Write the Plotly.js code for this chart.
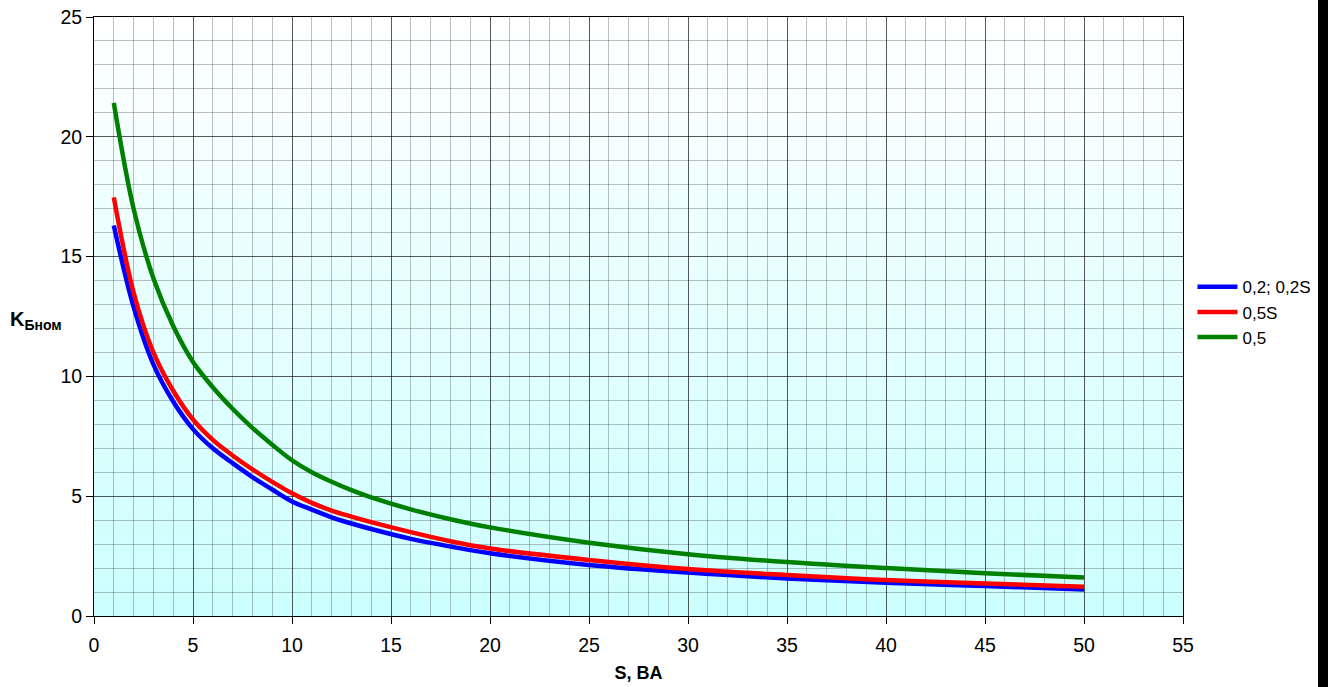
<!DOCTYPE html>
<html>
<head>
<meta charset="utf-8">
<script src="https://cdn.plot.ly/plotly-3.0.1.min.js"></script>
<style>
  html, body { margin: 0; padding: 0; background: #000; }
  #chart { width: 1318px; height: 687px; background: #fff; }
</style>
</head>
<body>
<div id="chart"></div>
<script>
// S, VA
const S = [1, 2, 3, 4, 5, 6, 7, 8, 9, 10, 11, 12, 13, 14, 16, 18, 20, 25, 30, 35, 40, 45, 50];
// class 0,2; 0,2S
const kBlue  = [16.3, 12.9, 10.5, 8.95, 7.8, 7.0, 6.38, 5.8, 5.28, 4.78, 4.44, 4.12, 3.86, 3.63, 3.22, 2.9, 2.62, 2.13, 1.81, 1.57, 1.39, 1.25, 1.11];
// class 0,5S
const kRed   = [17.47, 13.5, 11.0, 9.4, 8.2, 7.35, 6.7, 6.12, 5.6, 5.12, 4.72, 4.4, 4.15, 3.92, 3.5, 3.12, 2.82, 2.34, 1.96, 1.71, 1.5, 1.36, 1.22];
// class 0,5
const kGreen = [21.42, 17.0, 14.1, 12.1, 10.6, 9.55, 8.65, 7.85, 7.15, 6.5, 6.0, 5.6, 5.25, 4.95, 4.45, 4.04, 3.7, 3.06, 2.58, 2.25, 2.0, 1.78, 1.61];

const seriesNames = ['0,2; 0,2S', '0,5S', '0,5'];
const xTitle = 'S, BA';
const yTitle = '<b>K<sub>Бном</sub></b>';

const FONT = 'Arial, "Liberation Sans", sans-serif';

function line(y, name, color) {
  return {
    x: S, y: y, name: name, type: 'scatter', mode: 'lines',
    line: { color: color, width: 4.5, shape: 'spline', smoothing: 1 },
    hoverinfo: 'x+y+name'
  };
}

const data = [
  line(kBlue, seriesNames[0], '#0000ff'),
  line(kRed, seriesNames[1], '#ff0000'),
  line(kGreen, seriesNames[2], '#008000')
];

// gradient background: white (top) to light cyan (bottom)
const shapes = [];
const N = 60;
for (let i = 0; i < N; i++) {
  const t = (i + 0.5) / N; // 0 at top, 1 at bottom
  const r = Math.round(255 - 51 * t);
  shapes.push({
    type: 'rect', xref: 'paper', yref: 'paper',
    x0: 0, x1: 1, y0: 1 - (i + 1) / N, y1: 1 - i / N + 0.001,
    fillcolor: `rgb(${r},255,255)`, line: { width: 0 }, layer: 'below'
  });
}

const axisCommon = {
  showline: true, linecolor: '#000', linewidth: 1, mirror: true,
  ticks: 'outside', ticklen: 7, tickcolor: '#000', tickwidth: 1,
  showgrid: true, gridcolor: 'rgba(0,0,0,0.65)', gridwidth: 1,
  zeroline: false,
  tickfont: { family: FONT, size: 19.5, color: '#000' },
  minor: { dtick: 1, showgrid: true, gridcolor: 'rgba(0,0,0,0.25)', gridwidth: 1, ticks: '' }
};

const layout = {
  width: 1318, height: 687,
  margin: { l: 94, r: 135, t: 17, b: 71, autoexpand: false },
  paper_bgcolor: '#ffffff',
  plot_bgcolor: 'rgba(0,0,0,0)',
  font: { family: FONT, color: '#000' },
  showlegend: true,
  legend: {
    x: 1.0087, y: 0.507, xanchor: 'left', yanchor: 'middle',
    font: { family: FONT, size: 17, color: '#000' },
    bgcolor: 'rgba(0,0,0,0)', itemwidth: 40, tracegroupgap: 0
  },
  xaxis: Object.assign({}, axisCommon, {
    range: [0, 55], dtick: 5, tick0: 0, ticklabelstandoff: 5,
    title: { text: '<b>' + xTitle + '</b>', font: { family: FONT, size: 18, color: '#000' }, standoff: 10 }
  }),
  yaxis: Object.assign({}, axisCommon, {
    range: [0, 25], dtick: 5, tick0: 0
  }),
  shapes: shapes,
  annotations: [{
    text: yTitle, xref: 'paper', yref: 'paper', x: -0.053, y: 0.494,
    xanchor: 'center', yanchor: 'middle', showarrow: false,
    font: { family: FONT, size: 20, color: '#000' }
  }]
};

Plotly.newPlot('chart', data, layout, { displayModeBar: false, staticPlot: true });
</script>
</body>
</html>
